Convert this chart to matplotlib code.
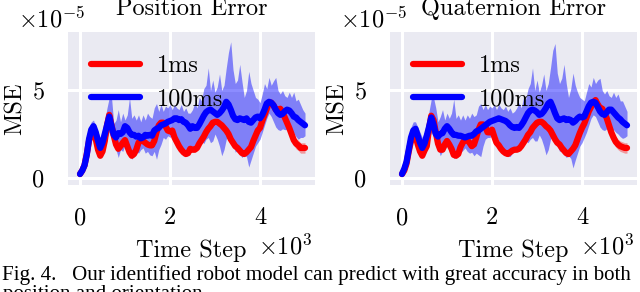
import numpy as np
import matplotlib
matplotlib.use("Agg")
import matplotlib.pyplot as plt
from matplotlib.ticker import FuncFormatter, FixedLocator

# ---------------- data (MSE values in units of 1e-5) ----------------
time_step = np.arange(0, 5001, 50)

pos_red = [0.2, 0.4, 0.7, 1.35, 2.1, 2.55, 2.75, 2.2, 1.6, 1.25,
           1.5, 2.1, 3.0, 3.6, 3.0, 2.4, 1.9, 1.65, 1.8, 2.0,
           2.15, 1.8, 1.45, 1.25, 1.35, 1.6, 2.0, 2.15, 2.1, 2.0,
           1.9, 1.85, 1.85, 2.1, 2.6, 3.0, 3.15, 3.15, 2.95, 2.7,
           2.65, 2.7, 2.3, 2.05, 1.8, 1.6, 1.45, 1.35, 1.4, 1.65,
           1.6, 1.6, 1.7, 1.95, 2.15, 2.35, 2.6, 2.8, 2.95, 3.15,
           3.2, 3.2, 3.1, 3.0, 2.85, 2.7, 2.5, 2.2, 2.0, 1.8,
           1.7, 1.55, 1.4, 1.35, 1.45, 1.6, 1.75, 2.1, 2.4, 2.7,
           2.85, 3.25, 3.6, 3.95, 4.3, 4.3, 4.15, 3.9, 3.9, 3.95,
           3.75, 3.45, 3.15, 2.85, 2.5, 2.15, 1.95, 1.85, 1.7, 1.7,
           1.7]
pos_blue = [0.2, 0.4, 0.7, 1.3, 2.2, 2.75, 2.95, 2.6, 2.1, 1.7,
            2.0, 2.5, 3.0, 3.5, 2.95, 2.45, 2.3, 2.55, 2.5, 2.6,
            2.95, 2.85, 2.6, 2.45, 2.45, 2.35, 2.4, 2.25, 2.3, 2.45,
            2.4, 2.45, 2.4, 2.7, 2.8, 2.85, 3.0, 3.05, 3.1, 3.2,
            3.25, 3.3, 3.4, 3.4, 3.3, 3.35, 3.2, 3.15, 3.0, 2.8,
            2.95, 2.85, 2.85, 3.05, 3.3, 3.55, 3.75, 3.85, 3.9, 3.8,
            3.7, 3.6, 3.7, 3.85, 4.05, 4.35, 4.2, 3.9, 3.55, 3.35,
            3.3, 3.4, 3.35, 3.3, 3.4, 3.2, 3.15, 3.3, 3.45, 3.5,
            3.4, 3.6, 3.9, 4.25, 4.35, 4.3, 4.15, 3.9, 3.7, 3.6,
            3.65, 3.8, 3.9, 3.85, 3.7, 3.5, 3.45, 3.3, 3.2, 3.1,
            3.0]
pos_blue_hi = [0.3, 0.6, 1.0, 1.8, 2.9, 3.2, 3.3, 2.9, 2.6, 2.3,
               2.7, 3.3, 4.0, 4.6, 4.6, 3.1, 3.3, 3.9, 3.2, 3.7,
               3.3, 3.6, 4.6, 3.4, 3.6, 3.3, 3.6, 3.2, 3.6, 3.3,
               3.7, 3.5, 3.4, 4.0, 4.25, 3.8, 4.2, 3.8, 4.1, 4.0,
               4.2, 3.9, 4.2, 4.0, 3.9, 4.2, 3.8, 4.0, 3.7, 3.7,
               3.9, 4.3, 4.0, 4.6, 4.4, 5.1, 5.3, 6.3, 5.0, 5.6,
               4.9, 5.2, 5.95, 5.0, 5.3, 6.3, 7.2, 7.8, 6.2, 5.4,
               5.6, 6.5, 5.5, 4.6, 5.0, 6.1, 5.4, 5.0, 4.6, 4.5,
               4.3, 4.8, 5.4, 5.1, 5.75, 5.3, 5.55, 5.75, 5.0, 4.8,
               5.0, 4.7, 4.6, 4.9, 4.6, 4.9, 4.4, 4.5, 4.2, 3.9,
               3.7]
pos_blue_lo = [0.1, 0.3, 0.5, 0.9, 1.6, 2.2, 2.5, 2.0, 1.5, 1.15,
               1.4, 1.9, 2.3, 2.6, 2.3, 1.9, 1.6, 1.15, 1.6, 1.5,
               1.9, 1.6, 1.3, 1.05, 1.3, 1.5, 1.4, 1.6, 1.7, 1.4,
               1.5, 1.3, 1.25, 1.5, 1.05, 1.6, 1.9, 2.3, 2.2, 2.4,
               2.3, 2.5, 2.2, 1.9, 1.6, 1.4, 1.3, 1.2, 1.3, 1.6,
               1.7, 1.9, 2.0, 1.9, 2.1, 1.95, 2.2, 2.3, 2.0, 2.1,
               2.5, 2.2, 1.8, 1.25, 1.6, 2.2, 2.4, 2.2, 2.0, 1.45,
               1.6, 1.35, 1.15, 1.3, 1.2, 0.6, 1.0, 1.4, 1.8, 2.0,
               2.2, 2.6, 3.0, 3.4, 3.7, 3.5, 3.2, 2.9, 2.75, 2.7,
               2.8, 2.75, 2.75, 2.8, 2.6, 2.55, 2.35, 2.2, 2.3, 2.3,
               2.4]

quat_red = [0.2, 0.4, 0.8, 1.5, 2.1, 2.3, 2.4, 1.9, 1.5, 1.25,
            1.55, 1.8, 2.8, 3.55, 3.3, 2.6, 1.95, 1.6, 1.6, 1.9,
            2.1, 1.9, 1.65, 1.3, 1.25, 1.35, 1.75, 2.0, 2.2, 2.15,
            2.0, 1.8, 1.9, 2.3, 2.75, 3.05, 3.05, 2.95, 2.6, 2.6,
            2.75, 2.35, 2.0, 1.85, 1.65, 1.5, 1.4, 1.35, 1.45, 1.55,
            1.6, 1.6, 1.65, 1.8, 2.0, 2.2, 2.45, 2.6, 2.85, 3.0,
            3.15, 3.2, 3.2, 3.1, 2.95, 2.85, 2.7, 2.45, 2.2, 2.0,
            1.9, 1.7, 1.55, 1.4, 1.35, 1.5, 1.65, 1.85, 2.2, 2.55,
            2.85, 3.1, 3.45, 3.8, 4.05, 4.3, 4.45, 4.2, 4.0, 3.95,
            3.7, 3.4, 3.0, 2.6, 2.3, 2.05, 1.9, 1.8, 1.75, 1.7,
            1.7]
quat_blue = [0.2, 0.5, 0.9, 1.6, 2.3, 2.7, 2.8, 2.4, 2.0, 1.7,
             1.95, 2.4, 2.9, 3.45, 3.05, 2.5, 2.35, 2.5, 2.55, 2.8,
             2.95, 2.8, 2.6, 2.45, 2.45, 2.4, 2.4, 2.35, 2.3, 2.35,
             2.4, 2.4, 2.5, 2.65, 2.7, 2.8, 2.9, 3.0, 3.1, 3.2,
             3.25, 3.3, 3.35, 3.4, 3.35, 3.3, 3.25, 3.15, 3.0, 2.9,
             2.85, 2.9, 2.85, 3.0, 3.2, 3.45, 3.7, 3.85, 3.9, 3.85,
             3.75, 3.6, 3.65, 3.8, 4.0, 4.25, 4.35, 4.05, 3.7, 3.4,
             3.3, 3.35, 3.4, 3.3, 3.35, 3.3, 3.15, 3.25, 3.4, 3.5,
             3.45, 3.5, 3.8, 4.1, 4.3, 4.35, 4.3, 4.05, 3.8, 3.65,
             3.6, 3.75, 3.9, 3.9, 3.75, 3.6, 3.45, 3.35, 3.2, 3.1,
             3.0]
quat_blue_hi = [0.3, 0.7, 1.2, 2.0, 2.9, 3.2, 3.2, 2.9, 2.6, 2.3,
                2.6, 3.2, 3.8, 4.5, 4.6, 4.0, 3.2, 3.5, 3.9, 3.3,
                3.7, 3.4, 3.7, 4.5, 3.4, 3.6, 3.3, 3.6, 3.3, 3.6,
                3.4, 3.7, 3.5, 3.6, 4.1, 4.25, 3.9, 4.2, 3.9, 4.1,
                4.0, 4.2, 3.9, 4.2, 4.0, 3.9, 4.1, 3.8, 4.0, 3.7,
                3.8, 4.0, 4.3, 4.0, 4.6, 4.5, 5.1, 5.4, 6.3, 5.0,
                5.6, 4.9, 5.3, 5.95, 5.0, 5.4, 6.3, 7.3, 7.7, 6.0,
                5.4, 5.7, 6.5, 5.4, 4.6, 5.1, 6.0, 5.3, 4.9, 4.6,
                4.5, 4.4, 4.9, 5.4, 5.2, 5.75, 5.4, 5.6, 5.7, 5.0,
                4.8, 5.0, 4.7, 4.6, 4.9, 4.6, 4.8, 4.4, 4.4, 4.1,
                3.8]
quat_blue_lo = [0.1, 0.3, 0.6, 1.0, 1.7, 2.1, 2.3, 1.9, 1.5, 1.2,
                1.3, 1.7, 2.2, 2.6, 2.4, 2.0, 1.7, 1.25, 1.5, 1.6,
                1.8, 1.7, 1.4, 1.1, 1.2, 1.5, 1.45, 1.55, 1.7, 1.5,
                1.4, 1.45, 1.25, 1.4, 1.3, 1.2, 1.8, 2.2, 2.3, 2.3,
                2.4, 2.3, 2.4, 2.1, 1.8, 1.5, 1.35, 1.25, 1.2, 1.4,
                1.65, 1.8, 1.95, 2.0, 1.9, 2.1, 2.0, 2.2, 2.3, 2.1,
                2.1, 2.45, 2.2, 1.8, 1.3, 1.6, 2.2, 2.4, 2.2, 1.9,
                1.5, 1.55, 1.35, 1.15, 1.25, 1.1, 0.55, 1.0, 1.4, 1.8,
                2.0, 2.3, 2.6, 3.0, 3.4, 3.6, 3.5, 3.2, 2.9, 2.75,
                2.7, 2.8, 2.75, 2.75, 2.75, 2.6, 2.5, 2.35, 2.25, 2.3,
                2.4]

red_spread = [0.05, 0.08, 0.1, 0.15, 0.15, 0.15, 0.15, 0.15, 0.15, 0.15,
              0.15, 0.2, 0.2, 0.2, 0.2, 0.15, 0.15, 0.15, 0.15, 0.15,
              0.15, 0.15, 0.15, 0.15, 0.15, 0.15, 0.15, 0.15, 0.15, 0.15,
              0.15, 0.15, 0.15, 0.15, 0.15, 0.15, 0.15, 0.15, 0.15, 0.15,
              0.15, 0.15, 0.15, 0.15, 0.15, 0.15, 0.15, 0.15, 0.15, 0.15,
              0.15, 0.15, 0.15, 0.15, 0.15, 0.15, 0.15, 0.15, 0.15, 0.15,
              0.15, 0.15, 0.15, 0.15, 0.15, 0.15, 0.15, 0.15, 0.15, 0.15,
              0.15, 0.15, 0.15, 0.15, 0.15, 0.15, 0.15, 0.15, 0.15, 0.2,
              0.2, 0.2, 0.2, 0.2, 0.2, 0.2, 0.2, 0.2, 0.2, 0.2,
              0.25, 0.25, 0.25, 0.3, 0.3, 0.3, 0.3, 0.3, 0.3, 0.3,
              0.3]

titles = ["Position Error", "Quaternion Error"]
series_labels = ["1ms", "100ms"]
x_ticks = [0, 2000, 4000]
y_ticks = [0, 5e-5]
caption_1 = "Fig. 4.   Our identified robot model can predict with great accuracy in both"
caption_2 = "position and orientation."

# ---------------- style ----------------
plt.rcParams.update({
    "font.family": "serif",
    "font.serif": ["cmr10"],
    "mathtext.fontset": "cm",
    "axes.formatter.use_mathtext": True,
    "axes.unicode_minus": False,
})
FS = 17.5
BG = "#EAEAF2"

fig = plt.figure(figsize=(6.4, 2.92), dpi=100)
W, H = 640.0, 292.0
ax_left = fig.add_axes([68 / W, (H - 185) / H, 247 / W, 153 / H])
ax_right = fig.add_axes([390 / W, (H - 185) / H, 247 / W, 153 / H])

datasets = [
    (pos_red, pos_blue, pos_blue_lo, pos_blue_hi),
    (quat_red, quat_blue, quat_blue_lo, quat_blue_hi),
]

for ax, title, (r, b, blo, bhi) in zip([ax_left, ax_right], titles, datasets):
    r = np.array(r) * 1e-5
    b = np.array(b) * 1e-5
    blo = np.array(blo) * 1e-5
    bhi = np.array(bhi) * 1e-5
    rs = np.array(red_spread) * 1e-5

    ax.set_facecolor(BG)
    for s in ax.spines.values():
        s.set_visible(False)
    ax.grid(True, color="white", linewidth=2.2)
    ax.set_axisbelow(True)

    ax.fill_between(time_step, blo, bhi, color="blue", alpha=0.45, linewidth=0)
    ax.fill_between(time_step, r - rs, r + rs, color="red", alpha=0.35, linewidth=0)
    ax.plot(time_step, r, color="red", linewidth=4.5, solid_capstyle="round", label=series_labels[0])
    ax.plot(time_step, b, color="blue", linewidth=4.5, solid_capstyle="round", label=series_labels[1])

    ax.set_xlim(-267, 5222)
    ax.set_ylim(-0.43e-5, 8.36e-5)
    ax.xaxis.set_major_locator(FixedLocator(x_ticks))
    ax.yaxis.set_major_locator(FixedLocator(y_ticks))
    ax.xaxis.set_major_formatter(FuncFormatter(lambda v, p: f"{v / 1e3:g}"))
    ax.yaxis.set_major_formatter(FuncFormatter(lambda v, p: f"{v / 1e-5:g}"))
    ax.tick_params(axis="both", length=0, labelsize=FS)
    ax.tick_params(axis="x", pad=16)
    ax.tick_params(axis="y", pad=17)

    ax.set_title(title, fontsize=FS, pad=12)
    ax.set_xlabel("Time Step", fontsize=FS, labelpad=7)
    ax.set_ylabel("MSE", fontsize=FS, labelpad=4)

    ax.text(0.988, -0.455, r"$\times10^{3}$", transform=ax.transAxes,
            ha="right", va="baseline", fontsize=FS)
    ax.text(-0.204, 1.033, r"$\times10^{-5}$", transform=ax.transAxes,
            ha="left", va="baseline", fontsize=FS)

    ax.legend(loc="upper left", frameon=False, fontsize=FS, handlelength=2.0,
              handletextpad=0.7, labelspacing=0.45, borderaxespad=0.55)

fig.text(0.003, (H - 280) / H, caption_1, fontsize=15.1, family="Liberation Serif",
         ha="left", va="baseline")
fig.text(0.005, (H - 299) / H, caption_2, fontsize=15.1, family="Liberation Serif",
         ha="left", va="baseline")

fig.savefig("out.png", dpi=100, facecolor="white")
